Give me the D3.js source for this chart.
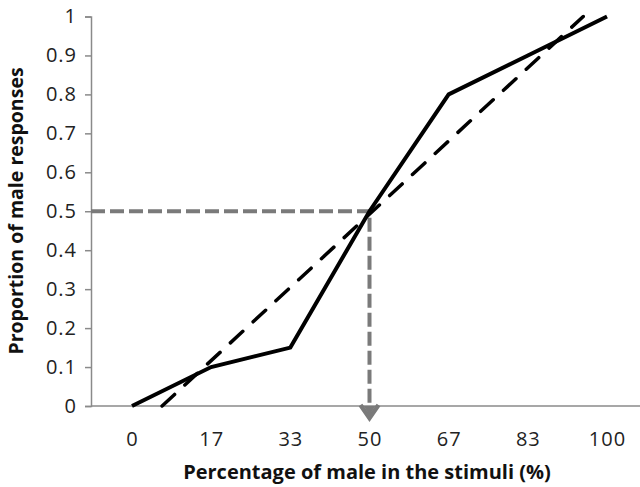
<!DOCTYPE html>
<html><head><meta charset="utf-8">
<script src="https://cdn.jsdelivr.net/npm/d3@7"></script>
<style>
html,body{margin:0;padding:0;background:#fff;}
svg{display:block;}
</style></head>
<body>
<svg id="chart" width="640" height="487"></svg>
<script>
// ---- data ----
const categories = ["0","17","33","50","67","83","100"];
const maleProportion = [0, 0.1, 0.15, 0.5, 0.8, 0.9, 1.0];
// linear trend (dashed), endpoints in category-index units
const trendIndex = [0.38, 5.70];
const trendValue = [0, 1];
// 50% threshold guide
const thresholdCategory = "50";
const thresholdValue = 0.5;
const yTickValues = [0,0.1,0.2,0.3,0.4,0.5,0.6,0.7,0.8,0.9,1];
const yTickLabels = ["0","0.1","0.2","0.3","0.4","0.5","0.6","0.7","0.8","0.9","1"];

// ---- layout ----
const axisLeft = 91, axisRight = 640, axisBottom = 406, axisTop = 16.5;
const svg = d3.select("#chart");

const x = d3.scalePoint().domain(categories).range([132, 607]);
const xi = d3.scaleLinear().domain([0, categories.length - 1]).range([132, 607]);
const y = d3.scaleLinear().domain([0, 1]).range([axisBottom, axisTop]);

const axisColor = "#8a8a8a";
const font = "'Open Sans', 'Liberation Sans', sans-serif";

// y axis
const yAxis = d3.axisLeft(y).tickValues(yTickValues)
  .tickFormat((d,i) => yTickLabels[i]).tickSize(6).tickPadding(8);
const gy = svg.append("g").attr("transform", `translate(${axisLeft},0)`).call(yAxis);
gy.select(".domain").attr("stroke", axisColor).attr("stroke-width", 1.5);
gy.selectAll(".tick line").attr("stroke", axisColor).attr("stroke-width", 1.5);
gy.selectAll(".tick text").attr("font-family", font).attr("font-size", 20)
  .attr("fill", "#222").attr("letter-spacing", "1px");

// x axis line
svg.append("line").attr("x1", axisLeft).attr("x2", axisRight)
  .attr("y1", axisBottom).attr("y2", axisBottom)
  .attr("stroke", axisColor).attr("stroke-width", 1.5);
const xAxis = d3.axisBottom(x).tickSize(0).tickPadding(26);
const gx = svg.append("g").attr("transform", `translate(0,${axisBottom})`).call(xAxis);
gx.select(".domain").remove();
gx.selectAll(".tick text").attr("font-family", font).attr("font-size", 20)
  .attr("fill", "#222").attr("letter-spacing", "1px");

// axis titles
svg.append("text").attr("x", 367).attr("y", 479).attr("text-anchor", "middle")
  .attr("font-family", font).attr("font-weight", "bold").attr("font-size", 20)
  .attr("fill", "#111")
  .text("Percentage of male in the stimuli (%)");
svg.append("text").attr("transform", `translate(23,211) rotate(-90)`)
  .attr("text-anchor", "middle")
  .attr("font-family", font).attr("font-weight", "bold").attr("font-size", 19.5)
  .attr("fill", "#111")
  .text("Proportion of male responses");

// threshold guide (gray dashed)
const guideColor = "#7a7a7a";
svg.append("path")
  .attr("d", d3.line()([[axisLeft, y(thresholdValue)], [x(thresholdCategory), y(thresholdValue)], [x(thresholdCategory), y(0) + 8]]))
  .attr("fill", "none").attr("stroke", guideColor).attr("stroke-width", 4)
  .attr("stroke-dasharray", "14,5");
// arrow head
const ax = x(thresholdCategory), ay = y(0);
svg.append("path")
  .attr("d", d3.line()([[ax - 9, ay - 1], [ax, ay + 12], [ax + 9, ay - 1]]))
  .attr("fill", "none").attr("stroke", guideColor).attr("stroke-width", 4.5)
  .attr("stroke-linejoin", "miter");
svg.append("path")
  .attr("d", d3.line()([[ax - 6, ay], [ax, ay + 9], [ax + 6, ay]]))
  .attr("fill", guideColor).attr("stroke", "none");

// trend line (black dashed)
svg.append("path")
  .attr("d", d3.line()(trendIndex.map((t, i) => [xi(t), y(trendValue[i])])))
  .attr("fill", "none").attr("stroke", "#000").attr("stroke-width", 3.5)
  .attr("stroke-dasharray", "17,14").attr("stroke-linecap", "round");

// data line (solid)
svg.append("path")
  .attr("d", d3.line().x((d, i) => x(categories[i])).y(d => y(d))(maleProportion))
  .attr("fill", "none").attr("stroke", "#000").attr("stroke-width", 4)
  .attr("stroke-linejoin", "miter");
</script>
</body></html>
